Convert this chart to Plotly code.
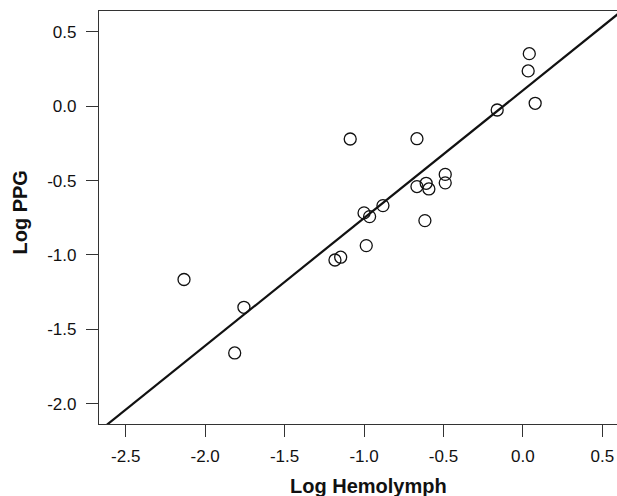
import plotly.graph_objects as go

# Data
log_hemolymph = [0.040, 0.033, 0.077, -0.162, -1.087, -0.667, -0.489, -0.489,
                 -0.667, -0.609, -0.592, -0.881, -1.000, -0.965, -0.617, -0.986,
                 -2.133, -1.756, -1.814, -1.183, -1.147]
log_ppg = [0.354, 0.238, 0.020, -0.025, -0.220, -0.218, -0.458, -0.515,
           -0.540, -0.518, -0.556, -0.668, -0.717, -0.742, -0.769, -0.937,
           -1.165, -1.352, -1.659, -1.034, -1.015]

# Fitted line
fit_intercept = 0.107
fit_slope = 0.859

x_ticks = [-2.5, -2.0, -1.5, -1.0, -0.5, 0.0, 0.5]
y_ticks = [0.5, 0.0, -0.5, -1.0, -1.5, -2.0]
x_range = [-2.668, 0.592]
y_range = [-2.137, 0.641]
x_title = "Log Hemolymph"
y_title = "Log PPG"

def lab(v):
    return f"{v:.1f}"

line_x = [-3.0, 1.0]
line_y = [fit_intercept + fit_slope * v for v in line_x]

fig = go.Figure()
fig.add_trace(go.Scatter(
    x=line_x, y=line_y, mode="lines",
    line=dict(color="#111111", width=2.2),
    hoverinfo="skip", showlegend=False,
))
fig.add_trace(go.Scatter(
    x=log_hemolymph, y=log_ppg, mode="markers",
    marker=dict(symbol="circle-open", size=12, color="#111111",
                line=dict(width=1.3, color="#111111")),
    showlegend=False,
))

font_family = "Liberation Sans, Arial, Helvetica, sans-serif"

fig.update_layout(
    width=617, height=496,
    margin=dict(l=99, r=0, t=11, b=72),
    paper_bgcolor="white", plot_bgcolor="white",
    font=dict(family=font_family, color="#111111", size=17),
    xaxis=dict(
        range=x_range, tickvals=x_ticks, ticktext=[lab(v) for v in x_ticks],
        showgrid=False, zeroline=False, automargin=False,
        showline=True, linecolor="#333333", linewidth=1.2, mirror=True,
        ticks="outside", ticklen=12, tickwidth=1.2, tickcolor="#333333",
        tickfont=dict(size=17, color="#111111"),
        ticklabelstandoff=4,
    ),
    yaxis=dict(
        range=y_range, tickvals=y_ticks, ticktext=[lab(v) for v in y_ticks],
        showgrid=False, zeroline=False, automargin=False,
        showline=True, linecolor="#333333", linewidth=1.2, mirror=False,
        ticks="outside", ticklen=12, tickwidth=1.2, tickcolor="#333333",
        tickfont=dict(size=17, color="#111111"),
        ticklabelstandoff=6,
    ),
    annotations=[
        dict(text=f"<b>{x_title}</b>", xref="paper", yref="paper",
             x=0.521, y=-0.149, xanchor="center", yanchor="middle",
             showarrow=False, font=dict(size=20, color="#111111")),
        dict(text=f"<b>{y_title}</b>", xref="paper", yref="paper",
             x=-0.1525, y=0.512, xanchor="center", yanchor="middle",
             textangle=-90, showarrow=False, font=dict(size=20, color="#111111")),
    ],
)

fig.write_html(
    "out.html",
    config={"displayModeBar": False},
    post_script="document.body.style.margin='0';document.body.style.overflow='hidden';",
)
